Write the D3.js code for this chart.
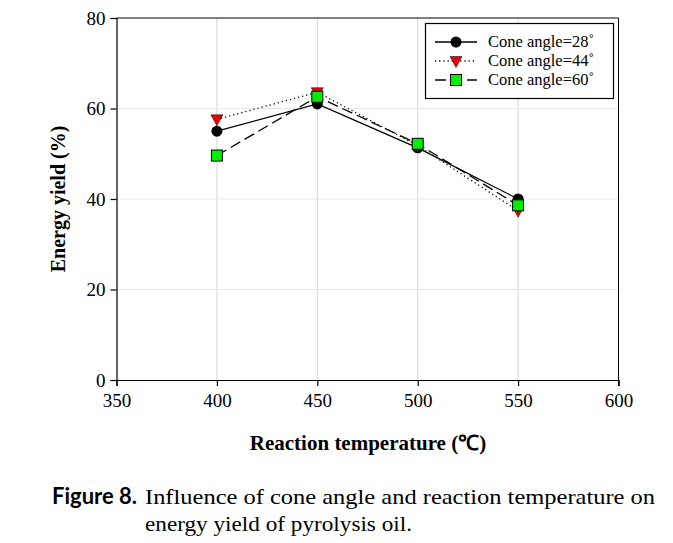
<!DOCTYPE html>
<html><head><meta charset="utf-8">
<script src="https://cdn.jsdelivr.net/npm/d3@7"></script>
<style>body{margin:0;background:#fff}svg{display:block}</style>
</head><body>
<svg id="c" width="673" height="543"></svg>
<script>
const temps = [400, 450, 500, 550];
const yield28 = [55.0, 61.0, 51.3, 40.0];
const yield44 = [57.6, 63.6, 51.8, 37.4];
const yield60 = [49.6, 62.6, 52.2, 38.6];
const seriesNames = ["Cone angle=28˚", "Cone angle=44˚", "Cone angle=60˚"];
const xTicks = [350, 400, 450, 500, 550, 600];
const yTicks = [0, 20, 40, 60, 80];

const svg = d3.select("#c");
const x = d3.scaleLinear().domain([350, 600]).range([116.5, 618.5]);
const y = d3.scaleLinear().domain([0, 80]).range([380, 18]);
const serif = "'Liberation Serif','Times New Roman',serif";

// grid
svg.append("g").selectAll("line").data(xTicks.slice(1, -1)).join("line")
  .attr("x1", d => x(d)).attr("x2", d => x(d)).attr("y1", y(0)).attr("y2", y(80))
  .attr("stroke", "#d4d4d4").attr("stroke-width", 1);
svg.append("g").selectAll("line").data(yTicks.slice(1, -1)).join("line")
  .attr("x1", x(350)).attr("x2", x(600)).attr("y1", d => y(d)).attr("y2", d => y(d))
  .attr("stroke", "#e8e8e8").attr("stroke-width", 1);

// frame
svg.append("line").attr("x1", x(350)).attr("x2", x(600)).attr("y1", y(80)).attr("y2", y(80)).attr("stroke", "#000");
svg.append("line").attr("x1", x(600)).attr("x2", x(600)).attr("y1", y(80)).attr("y2", y(0) + 6).attr("stroke", "#000");

// axes
const xAxis = svg.append("g").attr("transform", `translate(0,${y(0)})`)
  .call(d3.axisBottom(x).tickValues(xTicks).tickSize(6).tickPadding(8).tickFormat(d3.format("d")));
const yAxis = svg.append("g").attr("transform", `translate(${x(350)},0)`)
  .call(d3.axisLeft(y).tickValues(yTicks).tickSize(6).tickPadding(5).tickFormat(d3.format("d")));
[xAxis, yAxis].forEach(a => {
  a.attr("font-family", serif).attr("font-size", 19);
  a.selectAll("path,line").attr("stroke", "#000").attr("stroke-width", 1.2);
  a.selectAll("text").style("font-family", serif).style("font-size", "19px").attr("fill", "#000");
});

// axis titles
svg.append("text").attr("x", 368).attr("y", 450).attr("text-anchor", "middle")
  .style("font-family", serif).attr("font-weight", "bold").attr("font-size", 21)
  .text("Reaction temperature (℃)");
svg.append("text").attr("transform", `translate(65,${y(40)}) rotate(-90)`).attr("text-anchor", "middle")
  .style("font-family", serif).attr("font-weight", "bold").attr("font-size", 20)
  .text("Energy yield (%)");

const series = [
  {vals: yield28, dash: null, sym: "circle"},
  {vals: yield44, dash: "1.2,3", sym: "triangle"},
  {vals: yield60, dash: "11,5", sym: "square"}
];
const line = d3.line().x((d, i) => x(temps[i])).y(d => y(d));

function drawSym(g, sym, cx, cy) {
  if (sym === "circle") {
    g.append("circle").attr("cx", cx).attr("cy", cy).attr("r", 5.5).attr("fill", "#000");
  } else if (sym === "triangle") {
    g.append("path").attr("d", `M${cx-6},${cy-4.5}L${cx+6},${cy-4.5}L${cx},${cy+6.5}Z`)
      .attr("fill", "#ee0000").attr("stroke", "#000").attr("stroke-width", 0.5);
  } else {
    g.append("rect").attr("x", cx - 5.5).attr("y", cy - 5.5).attr("width", 11).attr("height", 11)
      .attr("fill", "#00ee00").attr("stroke", "#000").attr("stroke-width", 1);
  }
}

series.forEach(s => {
  const g = svg.append("g");
  g.append("path").datum(s.vals).attr("d", line).attr("fill", "none")
    .attr("stroke", "#000").attr("stroke-width", 1.3).attr("stroke-dasharray", s.dash);
  s.vals.forEach((v, i) => drawSym(g, s.sym, x(temps[i]), y(v)));
});

// legend
const lg = svg.append("g");
lg.append("rect").attr("x", 425.5).attr("y", 23.5).attr("width", 188).attr("height", 75)
  .attr("fill", "#fff").attr("stroke", "#000").attr("stroke-width", 1.2);
series.forEach((s, i) => {
  const cy = 42 + i * 19;
  lg.append("line").attr("x1", 435).attr("x2", 477).attr("y1", cy).attr("y2", cy)
    .attr("stroke", "#000").attr("stroke-width", 1.3).attr("stroke-dasharray", s.dash);
  drawSym(lg, s.sym, 456, cy);
  lg.append("text").attr("x", 488).attr("y", cy + 5).style("font-family", serif).attr("font-size", 16.5)
    .text(seriesNames[i]);
});

// caption
svg.append("text").attr("x", 52).attr("y", 504).style("font-family", "Lato,'DejaVu Sans',sans-serif")
  .attr("font-weight", "bold").attr("font-size", 22).text("Figure 8.");
svg.append("text").attr("x", 145).attr("y", 504).style("font-family", serif).attr("font-size", 21)
  .attr("textLength", 510).attr("lengthAdjust", "spacingAndGlyphs")
  .text("Influence of cone angle and reaction temperature on");
svg.append("text").attr("x", 145).attr("y", 531).style("font-family", serif).attr("font-size", 21)
  .attr("textLength", 267).attr("lengthAdjust", "spacingAndGlyphs")
  .text("energy yield of pyrolysis oil.");
</script>
</body></html>
